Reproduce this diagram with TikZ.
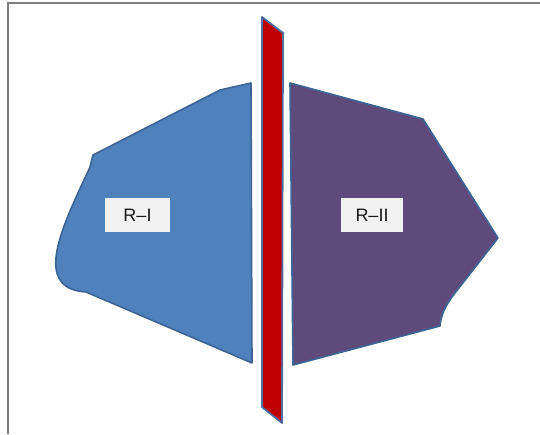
\documentclass[tikz,border=0pt]{standalone}
\usepackage{fontspec}
\setmainfont{Liberation Sans}
\definecolor{regionblue}{HTML}{4F81BD}
\definecolor{regionpurple}{HTML}{5F4B7B}
\definecolor{edgeblue}{HTML}{3D6494}
\definecolor{wallred}{HTML}{C00000}
\definecolor{walledge}{HTML}{4A70A0}
\definecolor{tagfill}{HTML}{F2F2F2}
\definecolor{framegray}{HTML}{7F7F7F}
\begin{document}
\begin{tikzpicture}[x=1pt,y=-1pt,
  region/.style={draw=edgeblue,line width=1.6pt,line join=round},
  tag/.style={fill=tagfill,minimum height=34pt,inner sep=0pt,text=black!90,font=\fontsize{18}{21}\selectfont}]
\useasboundingbox (0,0) rectangle (540,434);
% frame lines on the top and left
\draw[framegray,line width=2pt] (8,434) -- (8,3) -- (540,3);
% left region
\path[region,fill=regionblue]
  (251,83) -- (220,90) -- (93,155) -- (90,167)
  .. controls (76,198) and (53,242) .. (56,268)
  .. controls (58,285) and (70,291) .. (86,292)
  -- (252,363) -- cycle;
% right region
\path[region,fill=regionpurple]
  (290,83) -- (423,119) -- (498,238) -- (455,293)
  .. controls (445,306) and (441,315) .. (440,326)
  -- (293,365) -- cycle;
% separating wall
\path[draw=walledge,line width=1.8pt,fill=wallred,line join=round]
  (262,17) -- (283,33) -- (282,423) -- (262,407) -- cycle;
% labels
\node[tag,minimum width=65pt] (r1) at (137.5,215) {R--I};
\node[tag,minimum width=62pt] (r2) at (372,215) {R--II};
\end{tikzpicture}
\end{document}
